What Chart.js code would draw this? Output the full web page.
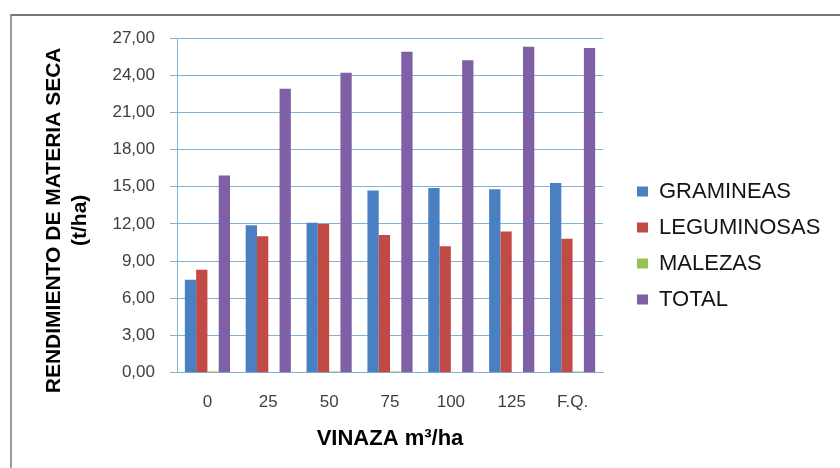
<!DOCTYPE html>
<html>
<head>
<meta charset="utf-8">
<script src="https://cdn.jsdelivr.net/npm/chart.js@4"></script>
<style>
  html, body { margin: 0; padding: 0; background: #ffffff; }
  #wrap { position: relative; width: 840px; height: 468px; overflow: hidden; background: #ffffff; }
  #frame {
    position: absolute; left: 10px; top: 14px; width: 900px; height: 500px;
    border-top: 2px solid #767676; border-left: 2px solid #9c9c9c;
  }
  #c { position: absolute; left: 0; top: 0; }
</style>
</head>
<body>
<div id="wrap">
  <div id="frame"></div>
  <canvas id="c" width="840" height="468"></canvas>
</div>
<script>
// Dosis de vinaza (m3/ha) y fertilización química
const categories = ['0', '25', '50', '75', '100', '125', 'F.Q.'];

// Rendimiento de materia seca (t/ha) por componente
const gramineas   = [7.5, 11.9, 12.1, 14.7, 14.9, 14.8, 15.3];
const leguminosas = [8.3, 11.0, 12.0, 11.1, 10.2, 11.4, 10.8];
const malezas     = [0.1, 0.0, 0.1, 0.1, 0.0, 0.0, 0.1];
const total       = [15.9, 22.9, 24.2, 25.9, 25.2, 26.3, 26.2];

const seriesNames = ['GRAMINEAS', 'LEGUMINOSAS', 'MALEZAS', 'TOTAL'];
const yTitleLines = ['RENDIMIENTO DE MATERIA SECA', '(t/ha)'];
const xTitle = 'VINAZA m³/ha';

const FONT = '"Liberation Sans", Arial, sans-serif';
const GRID = '#7fb3d8';
const TICK_COLOR = '#3a4146';

// Etiquetas del eje Y con coma decimal: 0,00 ... 27,00
const fmt = v => Number(v).toFixed(2).replace('.', ',');

// Título del eje Y en dos líneas, centrado bajo el área de trazado
const yTitlePlugin = {
  id: 'yTitle',
  afterDraw(chart) {
    const { ctx, chartArea } = chart;
    const s = chart.scales.y;
    const cy = (chartArea.top + chartArea.bottom) / 2 + 15;
    ctx.save();
    ctx.font = 'bold 21px ' + FONT;
    ctx.fillStyle = '#000000';
    ctx.textAlign = 'center';
    ctx.textBaseline = 'middle';
    yTitleLines.forEach((line, i) => {
      ctx.save();
      ctx.translate(s.left + 24 + i * 26, cy);
      ctx.rotate(-Math.PI / 2);
      ctx.fillText(line, 0, 0);
      ctx.restore();
    });
    ctx.restore();
  }
};

// Leyenda colocada a la derecha, separada del área de trazado
const legendPlace = {
  id: 'legendPlace',
  afterLayout(chart) {
    const lg = chart.legend;
    if (!lg) return;
    lg.left = chart.chartArea.right + 20;
    lg.right = chart.width;
    lg.top = 166.5;
    lg.bottom = chart.height;
  }
};

new Chart(document.getElementById('c'), {
  type: 'bar',
  data: {
    labels: categories,
    datasets: [
      { label: seriesNames[0], data: gramineas,   backgroundColor: '#4a7fc1' },
      { label: seriesNames[1], data: leguminosas, backgroundColor: '#c24a45' },
      { label: seriesNames[2], data: malezas,     backgroundColor: '#98c054' },
      { label: seriesNames[3], data: total,       backgroundColor: '#7e60a6' }
    ]
  },
  options: {
    responsive: false,
    animation: false,
    devicePixelRatio: 1,
    datasets: { bar: { categoryPercentage: 0.742, barPercentage: 1.0, borderWidth: 0 } },
    layout: { padding: { left: 30, top: 38, right: 37, bottom: 0 } },
    plugins: {
      legend: {
        position: 'right',
        align: 'start',
        maxWidth: 200,
        labels: {
          boxWidth: 11,
          boxHeight: 10,
          padding: 14,
          color: '#141414',
          font: { family: FONT, size: 22 }
        }
      },
      tooltip: { enabled: false },
      title: { display: false }
    },
    scales: {
      x: {
        afterFit(scale) { scale.height = 95.3; },
        grid: { display: false, drawTicks: false },
        border: { display: true, color: GRID, width: 1 },
        ticks: { color: TICK_COLOR, padding: 19, font: { family: FONT, size: 17 } },
        title: {
          display: true,
          text: xTitle,
          color: '#000000',
          padding: { top: 0, bottom: 16 },
          font: { family: FONT, size: 22, weight: 'bold' }
        }
      },
      y: {
        min: 0,
        max: 27,
        afterFit(scale) { scale.width = 147; },
        ticks: {
          stepSize: 3,
          padding: 15,
          color: TICK_COLOR,
          font: { family: FONT, size: 17 },
          callback: v => fmt(v)
        },
        grid: { color: GRID, lineWidth: 1, tickLength: 7, tickColor: GRID },
        border: { display: true, color: GRID, width: 1 },
        title: { display: false }
      }
    }
  },
  plugins: [yTitlePlugin, legendPlace]
});
</script>
</body>
</html>
